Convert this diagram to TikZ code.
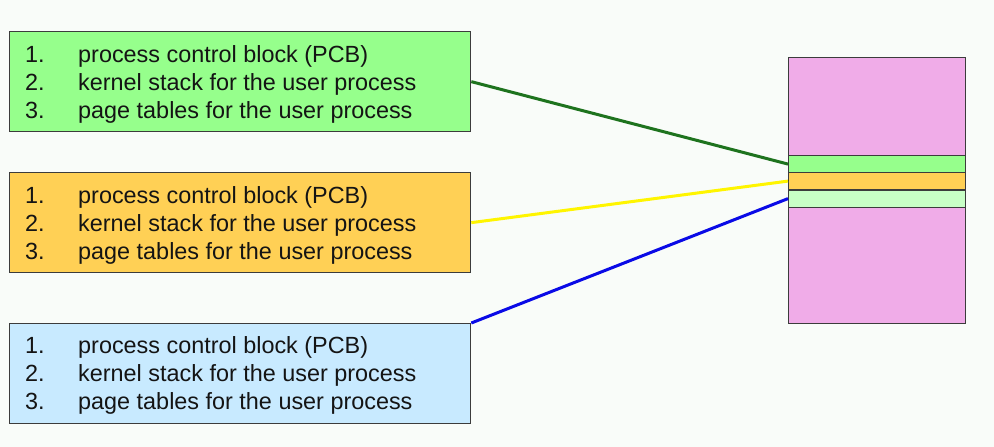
\documentclass[tikz,border=0pt]{standalone}
\usepackage{fontspec}
\setmainfont{Liberation Sans}
\definecolor{bg}{RGB}{249,252,249}
\definecolor{boxgreen}{RGB}{150,255,140}
\definecolor{boxorange}{RGB}{255,208,85}
\definecolor{boxblue}{RGB}{200,234,255}
\definecolor{colpink}{RGB}{240,172,232}
\definecolor{stripelight}{RGB}{200,255,198}
\definecolor{edge}{RGB}{60,60,60}
\definecolor{linegreen}{RGB}{30,115,30}
\definecolor{lineyellow}{RGB}{255,245,0}
\definecolor{lineblue}{RGB}{10,10,230}
\definecolor{txt}{RGB}{20,20,20}
\begin{document}
\begin{tikzpicture}[x=1pt,y=-1pt,
  listbox/.style={draw=edge,line width=1.3pt,minimum width=461pt,minimum height=100pt,inner sep=0pt,anchor=north west},
  stripe/.style={draw=edge,line width=1.2pt,minimum width=177pt,minimum height=17pt,inner sep=0pt,anchor=north west},
  num/.style={anchor=base west,inner sep=0pt,text=txt,font=\fontsize{23.4}{28}\selectfont},
  item/.style={anchor=base west,inner sep=0pt,text=txt,font=\fontsize{23.4}{28}\selectfont},
  link/.style={line width=3pt}]
\fill[bg] (0,0) rectangle (994,447);
\useasboundingbox (0,0) rectangle (994,447);
% boxes
\node[listbox,fill=boxgreen] (g) at (9,31) {};
\node[listbox,fill=boxorange] (o) at (9,172) {};
\node[listbox,fill=boxblue] (b) at (9,323) {};
% texts
\foreach \n/\y in {g/62,o/203,b/353}{
  \node[num] (\n n1) at (25,\y) {1.};
  \node[item] (\n t1) at (78,\y) {process control block (PCB)};
  \node[num] (\n n2) at (25,\y+28) {2.};
  \node[item] (\n t2) at (78,\y+28) {kernel stack for the user process};
  \node[num] (\n n3) at (25,\y+56) {3.};
  \node[item] (\n t3) at (78,\y+56) {page tables for the user process};
}
% memory column
\node[draw=edge,line width=1.3pt,fill=colpink,minimum width=177pt,minimum height=266pt,inner sep=0pt,anchor=north west] (mem) at (788,57) {};
\node[stripe,fill=boxgreen] (s1) at (788,155) {};
\node[stripe,fill=boxorange] (s2) at (788,172) {};
\node[stripe,fill=stripelight] (s3) at (788,189.5) {};
% connectors
\draw[link,linegreen] (g.east) -- (s1.west);
\draw[link,lineyellow] (o.east) -- (s2.west);
\draw[link,lineblue] (b.north east) -- (s3.west);
\end{tikzpicture}
\end{document}
